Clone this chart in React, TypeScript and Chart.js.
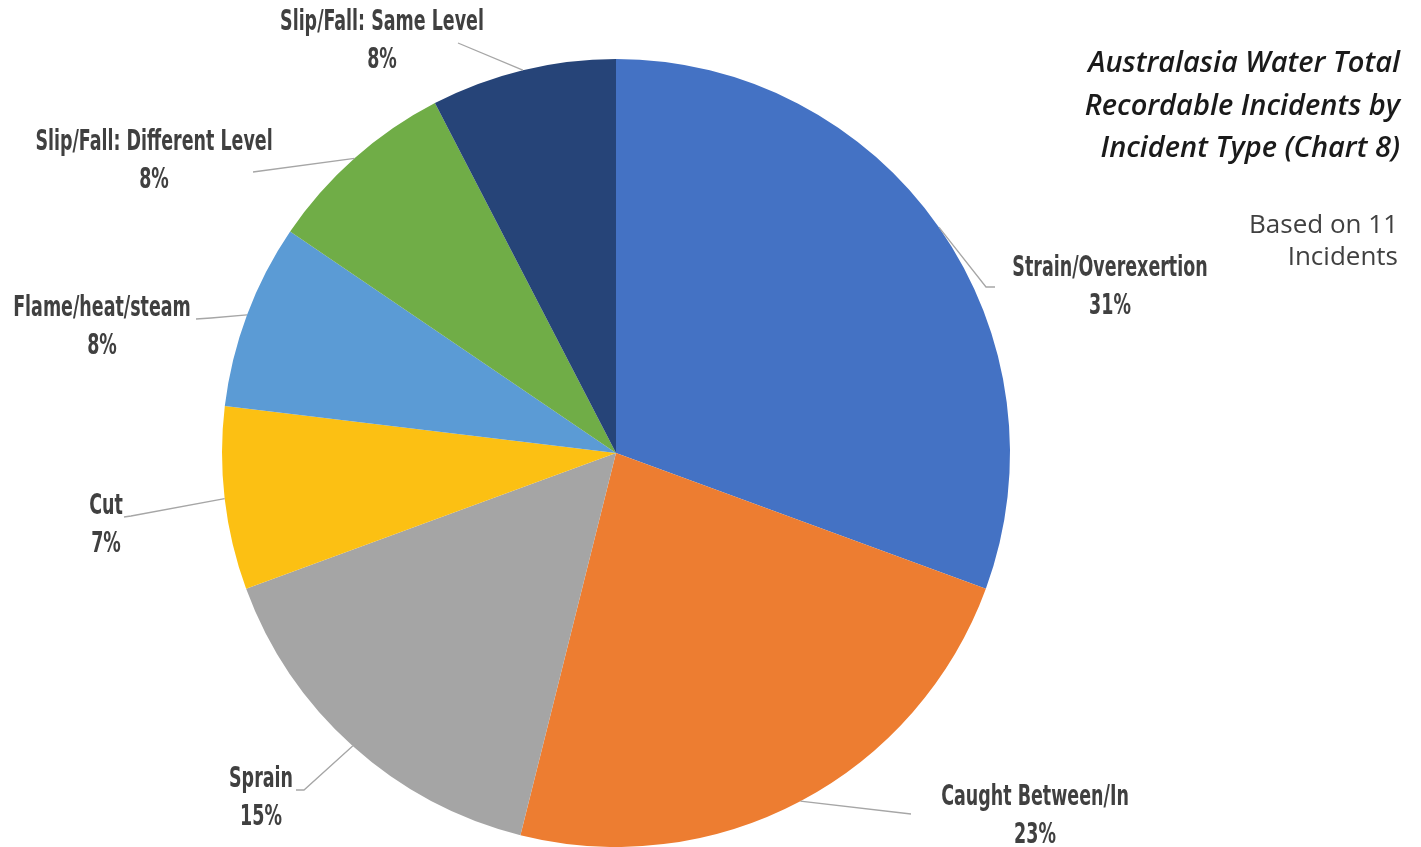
import React, { useEffect, useRef } from "react";
import { Chart, registerables } from "chart.js";

Chart.register(...registerables);

// ---- data ----
const categories: string[] = [
  "Strain/Overexertion",
  "Caught Between/In",
  "Sprain",
  "Cut",
  "Flame/heat/steam",
  "Slip/Fall: Different Level",
  "Slip/Fall: Same Level",
];
// slice sizes (share of the circle, %)
const sliceValues: number[] = [30.6, 23.3, 15.5, 7.5, 7.6, 7.9, 7.6];
// percentages printed in the data labels
const percentLabels: number[] = [31, 23, 15, 7, 8, 8, 8];
const sliceColors: string[] = [
  "#4472C4",
  "#ED7D31",
  "#A5A5A5",
  "#FCC013",
  "#5B9BD5",
  "#70AD47",
  "#264478",
];
const titleLines: string[] = [
  "Australasia Water Total",
  "Recordable Incidents by",
  "Incident Type (Chart 8)",
];
const subtitleLines: string[] = ["Based on 11", "Incidents"];

// ---- label layout (offsets from pie centre, at a reference radius of 394px) ----
type LabelLayout = { text: [number, number]; elbow: [number, number]; end: [number, number] };
const labelLayout: LabelLayout[] = [
  { text: [494, -185], elbow: [370, -166], end: [379, -166] },
  { text: [419, 344], elbow: [295, 361], end: [295, 361] },
  { text: [-355, 326], elbow: [-312, 337], end: [-320, 337] },
  { text: [-510, 53], elbow: [-485, 63], end: [-492, 64] },
  { text: [-514, -145], elbow: [-405, -135], end: [-420, -134] },
  { text: [-462, -311], elbow: [-363, -281], end: [-363, -281] },
  { text: [-234, -431], elbow: [-158, -410], end: [-158, -410] },
];
const REF_RADIUS = 394;
const LINE_GAP = 38;
const LABEL_X_SCALE = 0.67;

const labelFont = "bold 29px 'Liberation Sans Narrow', 'DejaVu Sans Condensed', 'Roboto', sans-serif";

function drawCondensed(ctx: CanvasRenderingContext2D, text: string, x: number, y: number) {
  ctx.save();
  ctx.translate(x, y);
  ctx.scale(LABEL_X_SCALE, 1);
  ctx.fillText(text, 0, 0);
  ctx.restore();
}

const pieLabelsPlugin = {
  id: "pieLabels",
  afterDraw(chart: any) {
    const ctx: CanvasRenderingContext2D = chart.ctx;
    const meta = chart.getDatasetMeta(0);
    ctx.save();
    meta.data.forEach((arc: any, i: number) => {
      const { x, y, startAngle, endAngle, outerRadius } = arc.getProps(
        ["x", "y", "startAngle", "endAngle", "outerRadius"],
        true
      );
      const s = outerRadius / REF_RADIUS;
      const mid = (startAngle + endAngle) / 2;
      const px = x + Math.cos(mid) * outerRadius;
      const py = y + Math.sin(mid) * outerRadius;
      const L = labelLayout[i];
      ctx.strokeStyle = "#A6A6A6";
      ctx.lineWidth = 1.3;
      ctx.beginPath();
      ctx.moveTo(px, py);
      ctx.lineTo(x + L.elbow[0] * s, y + L.elbow[1] * s);
      ctx.lineTo(x + L.end[0] * s, y + L.end[1] * s);
      ctx.stroke();

      ctx.fillStyle = "#404040";
      ctx.font = labelFont;
      ctx.textAlign = "center";
      ctx.textBaseline = "middle";
      const tx = x + L.text[0] * s;
      const ty = y + L.text[1] * s;
      drawCondensed(ctx, categories[i], tx, ty);
      drawCondensed(ctx, percentLabels[i] + "%", tx, ty + LINE_GAP * s);
    });

    // title
    ctx.textAlign = "right";
    ctx.textBaseline = "middle";
    ctx.fillStyle = "#1A1A1A";
    ctx.font = "italic 600 29px 'Open Sans', 'Lato', sans-serif";
    titleLines.forEach((t, i) => ctx.fillText(t, 1400, 64 + i * 42.5));
    ctx.fillStyle = "#404040";
    ctx.font = "26px 'Open Sans', sans-serif";
    subtitleLines.forEach((t, i) => ctx.fillText(t, 1398, 226 + i * 32));
    ctx.restore();
  },
};

export default function App() {
  const canvasRef = useRef<HTMLCanvasElement | null>(null);

  useEffect(() => {
    if (!canvasRef.current) return;
    const chart = new Chart(canvasRef.current, {
      type: "pie",
      data: {
        labels: categories,
        datasets: [
          {
            data: sliceValues,
            backgroundColor: sliceColors,
            borderWidth: 0,
            hoverOffset: 0,
          },
        ],
      },
      options: {
        responsive: true,
        maintainAspectRatio: false,
        animation: false,
        layout: { padding: { left: 222, right: 411, top: 59, bottom: 0 } },
        plugins: {
          legend: { display: false },
          tooltip: { enabled: false },
          title: { display: false },
        },
        events: [],
      },
      plugins: [pieLabelsPlugin],
    });
    return () => chart.destroy();
  }, []);

  return (
    <div
      style={{
        position: "absolute",
        left: 0,
        top: 0,
        width: 1421,
        height: 847,
        background: "#ffffff",
      }}
    >
      <canvas ref={canvasRef} />
    </div>
  );
}
